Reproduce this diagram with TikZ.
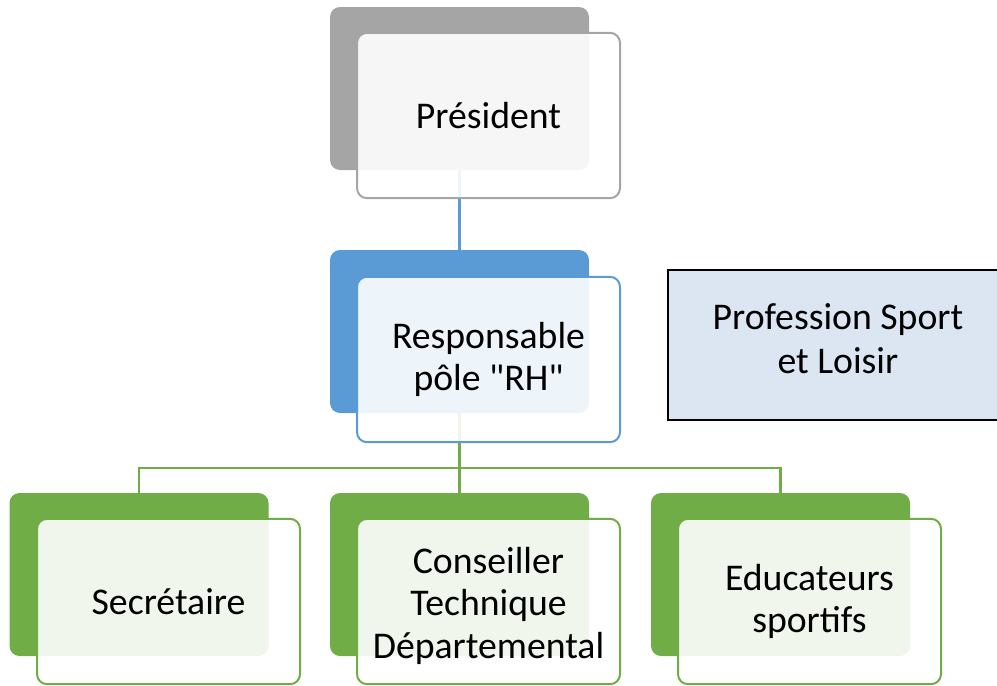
\documentclass[tikz,border=0pt]{standalone}
\usepackage{fontspec}
\setmainfont{Carlito}
\newfontfamily\carl{Carlito}
\definecolor{cgray}{HTML}{A5A5A5}
\definecolor{cblue}{HTML}{5B9BD5}
\definecolor{cgreen}{HTML}{70AD47}
\definecolor{cpale}{HTML}{DCE6F2}
\begin{document}
\begin{tikzpicture}[x=0.75pt,y=-0.75pt,
  backbox/.style={rectangle,rounded corners=7.5pt,draw=none,fill=#1,
    minimum width=194.25pt,minimum height=122.25pt,inner sep=0pt,outer sep=0pt},
  frontbox/.style={rectangle,rounded corners=7.5pt,draw=#1,line width=1.5pt,
    fill=white,fill opacity=0.9,text opacity=1,
    minimum width=197.25pt,minimum height=124pt,inner sep=0pt,outer sep=0pt,
    align=center,font=\carl\fontsize{28.3pt}{32pt}\selectfont},
  conn/.style={line width=1.6pt,draw=#1}]
\useasboundingbox (0,0) rectangle (997,686);
\clip (0,0) rectangle (997,686);
% back boxes
\node[backbox=cgray]  (presb) at (459.5,88.5) {};
\node[backbox=cblue]  (rhb)   at (459.5,331.5) {};
\node[backbox=cgreen] (secb)  at (139,574.5) {};
\node[backbox=cgreen] (consb) at (459.5,574.5) {};
\node[backbox=cgreen] (edub)  at (780.5,574.5) {};
% connectors
\coordinate (bus) at (459.5,468);
\draw[conn=cblue] (presb.south) -- (rhb.north);
\draw[conn=cgreen] (rhb.south) -- (consb.north);
\draw[conn=cgreen] (secb.north) |- (bus) -| (edub.north);
% front boxes
\node[frontbox=cgray]  (pres) at (488.5,115.5) {Président};
\node[frontbox=cblue]  (rh)   at (488.5,359.5) {Responsable\\pôle "RH"};
\node[frontbox=cgreen] (sec)  at (168.5,601.5) {Secrétaire};
\node[frontbox=cgreen] (cons) at (488.5,601.5) {\rule{0pt}{26pt}Conseiller\\Technique\\Départemental};
\node[frontbox=cgreen] (edu)  at (809.5,601.5) {Educateurs\\sportifs};
% side box
\node[rectangle,draw=black,line width=1.4pt,fill=cpale,inner sep=0pt,
  minimum width=255pt,minimum height=112.5pt,align=center,
  font=\carl\fontsize{28.3pt}{33pt}\selectfont] (prof) at (838,345) {Profession Sport\\et Loisir\vspace*{10pt}};
\end{tikzpicture}
\end{document}
